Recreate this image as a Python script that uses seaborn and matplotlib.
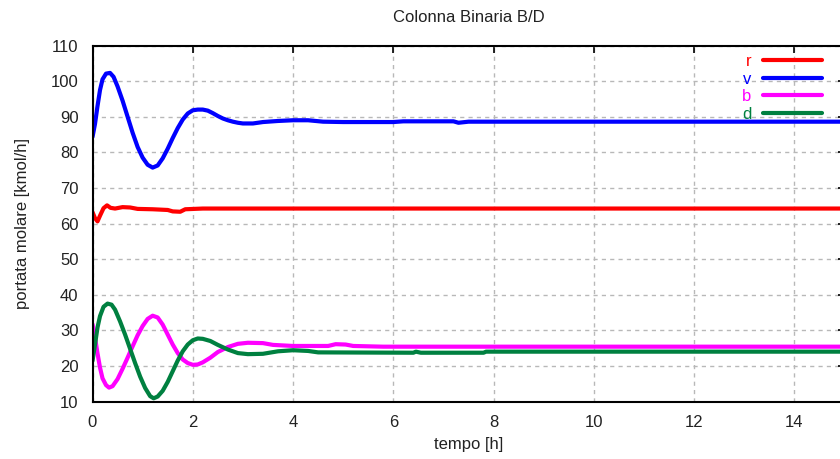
import matplotlib
matplotlib.use("Agg")
import matplotlib.pyplot as plt
import seaborn as sns
import pandas as pd

# Portate molari nel transitorio della colonna binaria
t_r = [0, 0.05, 0.1, 0.15, 0.22, 0.29, 0.36, 0.45, 0.6, 0.75, 0.9, 1.2, 1.5, 1.6, 1.75, 1.85, 2.2, 15]
r = [63.2, 61.5, 60.6, 62.2, 64.3, 65.1, 64.4, 64.2, 64.6, 64.5, 64.1, 64.0, 63.8, 63.4, 63.3, 64.0, 64.2, 64.2]

t_v = [0.0, 0.05, 0.1, 0.15, 0.2, 0.27, 0.35, 0.42, 0.5, 0.6, 0.7, 0.8, 0.9, 1.0, 1.1, 1.2,
       1.3, 1.4, 1.5, 1.6, 1.7, 1.8, 1.9, 2.0, 2.1, 2.2, 2.3, 2.4, 2.5, 2.6, 2.7, 2.8, 2.9,
       3.0, 3.2, 3.4, 3.7, 4.0, 4.3, 4.6, 5.0, 6.0, 6.2, 7.2, 7.3, 7.5, 15]
v = [84.3, 88, 93, 97.5, 100.5, 102.1, 102.3, 101.2, 98.5, 94.5, 90, 85.5, 81.5, 78.5, 76.5, 75.7,
     76.3, 78.3, 81, 84, 86.8, 89.2, 90.9, 91.8, 92.0, 92.0, 91.7, 91.0, 90.2, 89.5, 89.0, 88.6, 88.3,
     88.1, 88.1, 88.5, 88.8, 89.0, 89.0, 88.6, 88.5, 88.5, 88.7, 88.7, 88.3, 88.6, 88.6]

t_b = [0, 0.05, 0.1, 0.15, 0.2, 0.27, 0.33, 0.4, 0.5, 0.6, 0.7, 0.8, 0.9, 1.0, 1.1, 1.2, 1.3,
       1.4, 1.5, 1.6, 1.7, 1.8, 1.9, 2.0, 2.1, 2.2, 2.35, 2.5, 2.7, 2.9, 3.1, 3.4, 3.6, 4.0,
       4.7, 4.85, 5.05, 5.2, 5.8, 15]
b = [31.7, 28, 23.5, 19.5, 16.5, 14.6, 13.9, 14.3, 16.3, 19.2, 22.3, 25.5, 28.6, 31.2, 33.2, 34.1, 33.6,
     31.6, 28.8, 26.0, 23.6, 21.8, 20.8, 20.3, 20.4, 21.0, 22.3, 23.9, 25.3, 26.2, 26.5, 26.4, 25.9, 25.6,
     25.6, 26.1, 26.0, 25.6, 25.4, 25.4]

t_d = [0, 0.05, 0.1, 0.15, 0.22, 0.3, 0.38, 0.45, 0.55, 0.65, 0.75, 0.85, 0.95, 1.05, 1.15, 1.22,
       1.3, 1.4, 1.5, 1.6, 1.7, 1.8, 1.9, 2.0, 2.1, 2.2, 2.35, 2.5, 2.7, 2.9, 3.1, 3.4, 3.7, 4.0,
       4.3, 4.5, 6.4, 6.45, 6.55, 7.8, 7.85, 15]
d = [21.4, 26, 30.8, 34, 36.6, 37.5, 37.2, 35.8, 32.5, 28.8, 24.8, 20.8, 17.0, 13.8, 11.5, 10.9,
     11.4, 13.0, 15.5, 18.5, 21.5, 24.1, 26.0, 27.2, 27.7, 27.6, 27.0, 25.9, 24.6, 23.6, 23.3, 23.4, 24.1, 24.4,
     24.2, 23.8, 23.7, 24.0, 23.7, 23.7, 24.0, 24.0]

series = ["r", "v", "b", "d"]
colors = {"r": "#ff0000", "v": "#0000ff", "b": "#ff00ff", "d": "#008040"}

frames = []
for name, tt, yy in [("r", t_r, r), ("v", t_v, v), ("b", t_b, b), ("d", t_d, d)]:
    frames.append(pd.DataFrame({"tempo": tt, "portata": yy, "serie": name}))
df = pd.concat(frames, ignore_index=True)

sns.set_style("white")
plt.rcParams["font.family"] = ["Liberation Sans", "DejaVu Sans"]

fig = plt.figure(figsize=(8.4, 4.59), dpi=100)
ax = fig.add_axes([92.5 / 840, (459 - 401.5) / 459, 752 / 840, 356 / 459])

sns.lineplot(data=df, x="tempo", y="portata", hue="serie", hue_order=series,
             palette=colors, estimator=None, sort=True, linewidth=3.0, ax=ax)

ax.set_xlim(0, 15)
ax.set_ylim(10, 110)
ax.set_xticks(range(0, 15, 2))
ax.set_yticks(range(10, 111, 10))

ax.grid(True, color="#b8b8b8", linestyle=(0, (3, 3)), linewidth=1.0)
ax.set_axisbelow(True)
for side in ["left", "bottom", "top", "right"]:
    ax.spines[side].set_visible(True)
    ax.spines[side].set_color("black")
    ax.spines[side].set_linewidth(1.5)

ax.tick_params(axis="both", direction="in", length=5, width=1.2, colors="black",
               labelcolor="#222222", labelsize=12, top=True, right=True)
ax.tick_params(axis="x", pad=10)
ax.tick_params(axis="y", pad=10)

ax.set_title("Colonna Binaria B/D", fontsize=12, color="#222222", pad=17)
ax.set_xlabel("tempo [h]", fontsize=12, color="#222222", labelpad=5)
ax.set_ylabel("portata molare [kmol/h]", fontsize=12, color="#222222", labelpad=15)

leg = ax.legend(loc="upper right", bbox_to_anchor=(830 / 840, 1 - 46 / 459),
                bbox_transform=fig.transFigure, frameon=False, markerfirst=False,
                fontsize=12, handlelength=3.5, handletextpad=0.7, labelspacing=0.15,
                borderpad=0, labelcolor="linecolor")
for line in leg.get_lines():
    line.set_linewidth(3.0)

fig.savefig("out.png", dpi=100)
